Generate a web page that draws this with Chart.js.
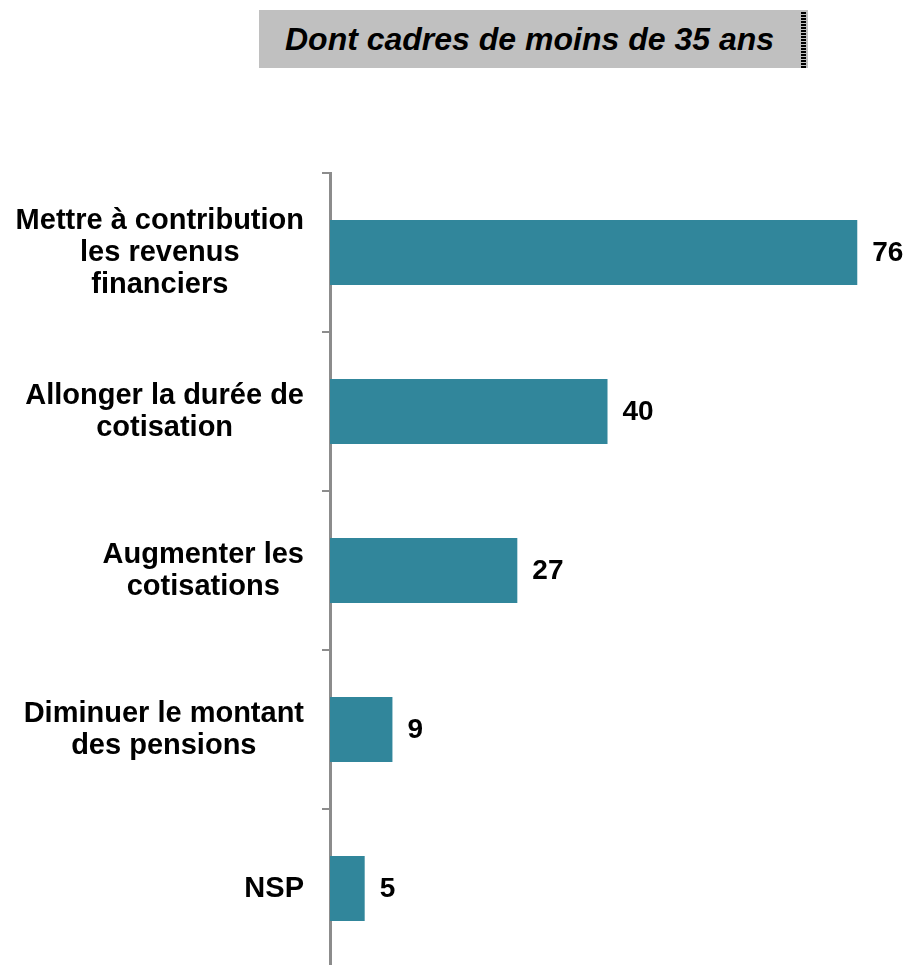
<!DOCTYPE html>
<html lang="fr">
<head>
<meta charset="utf-8">
<title>Dont cadres de moins de 35 ans</title>
<script src="https://cdn.jsdelivr.net/npm/chart.js@4/dist/chart.umd.min.js"></script>
<style>
  html, body { margin: 0; padding: 0; background: #fff; }
  #wrap { position: relative; width: 910px; height: 965px; overflow: hidden; }
  #titre {
    position: absolute; left: 259px; top: 10px; width: 549px; height: 58px;
    background: #c0c0c0; box-sizing: border-box; padding-right: 8px;
    font: italic bold 32px "Liberation Sans", Arial, sans-serif; color: #000;
    line-height: 58px; text-align: center;
  }
  #titre::after {
    content: ""; position: absolute; right: 2px; top: 2px; bottom: 0; width: 5px;
    background: repeating-linear-gradient(to bottom, #000 0 2px, transparent 2px 3px);
  }
  #graph { position: absolute; left: 0; top: 0; }
</style>
</head>
<body>
<div id="wrap">
  <canvas id="graph" width="910" height="968"></canvas>
  <div id="titre">Dont cadres de moins de 35 ans</div>
</div>
<script>
const categories = [
  ['Mettre à contribution', 'les revenus', 'financiers'],
  ['Allonger la durée de', 'cotisation'],
  ['Augmenter les', 'cotisations'],
  ['Diminuer le montant', 'des pensions'],
  ['NSP']
];
const valeurs = [76, 40, 27, 9, 5];

const police = '"Liberation Sans", Arial, sans-serif';

// libellés : bloc calé à droite contre l'axe, lignes centrées entre elles
const libelles = {
  id: 'libelles',
  afterDraw(chart) {
    const ctx = chart.ctx;
    const y = chart.scales.y;
    const droite = 304;
    const interligne = 32;
    ctx.save();
    ctx.font = 'bold 29px ' + police;
    ctx.fillStyle = '#000';
    ctx.textAlign = 'center';
    ctx.textBaseline = 'middle';
    categories.forEach((lignes, i) => {
      const large = Math.max(...lignes.map(l => ctx.measureText(l).width));
      const cx = droite - large / 2;
      const cy = y.getPixelForTick(i);
      lignes.forEach((l, j) => {
        ctx.fillText(l, cx, cy + (j - (lignes.length - 1) / 2) * interligne);
      });
    });
    ctx.restore();
  }
};

// écrit la valeur à droite de chaque barre
const etiquettes = {
  id: 'etiquettes',
  afterDatasetsDraw(chart) {
    const ctx = chart.ctx;
    const meta = chart.getDatasetMeta(0);
    ctx.save();
    ctx.font = 'bold 28px ' + police;
    ctx.fillStyle = '#000';
    ctx.textAlign = 'left';
    ctx.textBaseline = 'middle';
    meta.data.forEach((bar, i) => {
      ctx.fillText(String(valeurs[i]), bar.x + 15, bar.y + 1);
    });
    ctx.restore();
  }
};

new Chart(document.getElementById('graph'), {
  type: 'bar',
  data: {
    labels: categories,
    datasets: [{
      data: valeurs,
      backgroundColor: '#31869B',
      borderWidth: 0,
      barPercentage: 1,
      categoryPercentage: 0.41
    }]
  },
  options: {
    indexAxis: 'y',
    responsive: false,
    animation: false,
    events: [],
    layout: { padding: { top: 173, right: 0, bottom: 0, left: 0 } },
    plugins: {
      legend: { display: false },
      tooltip: { enabled: false }
    },
    scales: {
      x: { display: false, min: 0, max: 83.6 },
      y: {
        afterFit(scale) {
          scale.width = 330;
          scale.paddingTop = 0;
          scale.paddingBottom = 0;
        },
        border: { display: true, color: '#8c8c8c', width: 3 },
        grid: {
          drawOnChartArea: false,
          drawTicks: true,
          tickLength: 8,
          color: '#8c8c8c',
          lineWidth: 2
        },
        ticks: { display: false }
      }
    }
  },
  plugins: [etiquettes, libelles]
});
</script>
</body>
</html>
